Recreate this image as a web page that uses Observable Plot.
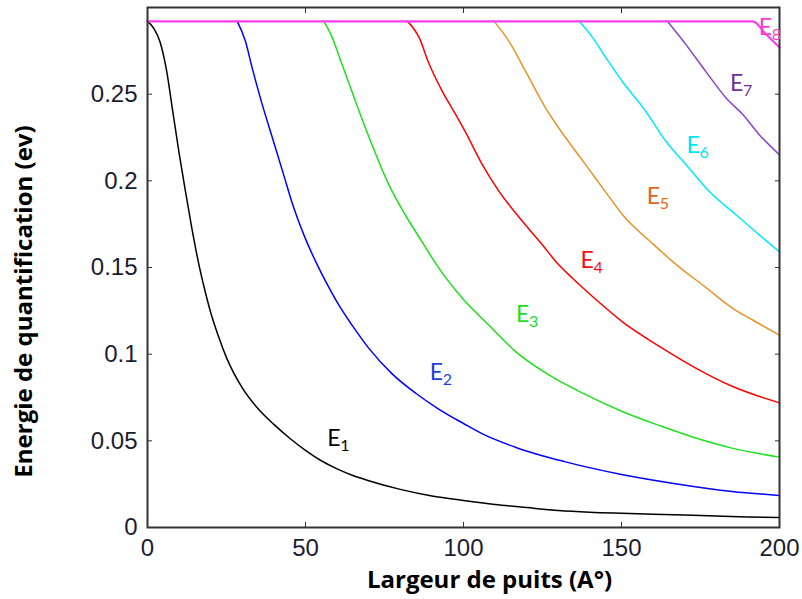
<!DOCTYPE html>
<html>
<head>
<meta charset="utf-8">
<script src="https://cdn.jsdelivr.net/npm/d3@7"></script>
<script src="https://cdn.jsdelivr.net/npm/@observablehq/plot@0.6"></script>
<style>
  html, body { margin: 0; padding: 0; background: #fff; }
</style>
</head>
<body>
<div id="chart"></div>
<script>
// Quantized energy levels of a finite quantum well versus well width.
// Each level is a list of [width (Å), energy (eV)] pairs; a level sits at the
// barrier height until the well is wide enough to bind it.
const e1 = [[0, 0.292], [2, 0.288], [4, 0.280], [6, 0.264], [8, 0.240], [10, 0.216], [12, 0.194], [14, 0.173],
  [16, 0.154], [18, 0.138], [20, 0.124], [22.5, 0.110], [25, 0.098], [30, 0.0805], [35, 0.0685], [40, 0.0595],
  [45, 0.0515], [50, 0.0445], [55, 0.0385], [60, 0.0338], [65, 0.030], [70, 0.027], [80, 0.022], [90, 0.0182],
  [100, 0.0156], [110, 0.0133], [120, 0.0115], [130, 0.0098], [140, 0.0088], [150, 0.0082], [160, 0.0077],
  [170, 0.0072], [180, 0.0066], [190, 0.0061], [200, 0.0058]];
const e2 = [[28.4, 0.292], [31, 0.2805], [33, 0.266], [36, 0.246], [40, 0.222], [43, 0.204], [46, 0.186],
  [50, 0.1665], [54, 0.1505], [57.4, 0.1385], [60, 0.130], [65, 0.116], [70, 0.1035], [77.5, 0.0885],
  [85, 0.0773], [92, 0.0685], [100, 0.060], [106, 0.054], [116.6, 0.0462], [132, 0.038], [150, 0.0306],
  [167, 0.0253], [185, 0.0208], [200, 0.0185]];
const e3 = [[55.8, 0.292], [58.5, 0.2825], [61, 0.270], [64, 0.255], [67, 0.240], [71, 0.221], [76.4, 0.1977],
  [81.7, 0.180], [87, 0.1645], [91.5, 0.1515], [100, 0.1315], [108, 0.1168], [116.6, 0.1013], [127, 0.088],
  [137.7, 0.0775], [150.4, 0.0668], [162, 0.0588], [172.5, 0.0522], [185, 0.0458], [200, 0.0406]];
const e4 = [[82.3, 0.292], [86, 0.2825], [89, 0.268], [93.3, 0.2516], [97.6, 0.238], [100.5, 0.2285],
  [106, 0.2092], [111.3, 0.1938], [118.7, 0.1765], [125, 0.163], [129.2, 0.1535], [134.5, 0.1438],
  [141, 0.133], [150.4, 0.1185], [162, 0.1045], [172.5, 0.093], [185, 0.0815], [200, 0.0719]];
const e5 = [[109.7, 0.292], [114.4, 0.2805], [119.7, 0.263], [126, 0.242], [132.4, 0.2247], [138.7, 0.2092],
  [145, 0.1935], [150.4, 0.1803], [160, 0.1635], [167.5, 0.1514], [175.7, 0.1399], [185.2, 0.1264],
  [191.5, 0.1197], [200, 0.111]];
const e6 = [[136.6, 0.292], [140.9, 0.2825], [145.1, 0.2709], [150.4, 0.257], [157.7, 0.240], [164.1, 0.2227],
  [170.5, 0.2092], [177.8, 0.1938], [186.3, 0.1803], [193.6, 0.1688], [200, 0.159]];
const e7 = [[164.6, 0.292], [170.4, 0.2786], [176.7, 0.263], [183.1, 0.2478], [188.4, 0.2382],
  [193.6, 0.2266], [200, 0.215]];
const e8 = [[0, 0.292], [191.5, 0.292], [195.8, 0.2844], [200, 0.277]];

const levels = [e1, e2, e3, e4, e5, e6, e7, e8];
const lineColors = ["#000000", "#0000ff", "#1fe01f", "#ff0000", "#e8922a", "#00eaff", "#8844cc", "#ff3cf0"];
const lineWidths = [1.5, 1.5, 1.5, 1.5, 1.5, 1.5, 1.5, 2.2];

// Level names, written as E with a subscript index, placed beside each curve
const labelIndex = ["1", "2", "3", "4", "5", "6", "7", "8"];
const labelWidth = [56.9, 89.3, 116.6, 137, 158, 170.6, 184.3, 193.4];
const labelEnergy = [0.0468, 0.085, 0.1183, 0.1495, 0.1865, 0.216, 0.252, 0.284];
const labelColors = ["#000000", "#1f3fd6", "#22dd22", "#f21010", "#e0661a", "#00e5f0", "#7030a0", "#ff3dc8"];

const xTicks = [0, 50, 100, 150, 200];
const yTicks = [0, 0.05, 0.1, 0.15, 0.2, 0.25];
const yTickLabels = ["0", "0.05", "0.1", "0.15", "0.2", "0.25"];

const xTitle = "Largeur de puits (A°)";
const yTitle = "Energie de quantification (ev)";

const axisColor = "#333";
const tickText = "#1c1c30";
const titleFont = "'Open Sans', Lato, sans-serif";
const labelFont = "Lato, 'Open Sans', sans-serif";

const chart = Plot.plot({
  width: 802,
  height: 599,
  marginLeft: 147,
  marginRight: 23,
  marginTop: 7,
  marginBottom: 72,
  style: { fontFamily: "'Liberation Sans', Arial, sans-serif", fontSize: "24px", background: "#fff", color: tickText },
  x: { domain: [0, 200] },
  y: { domain: [0, 0.3] },
  marks: [
    ...levels.map((pts, i) => Plot.line(pts, {
      x: d => d[0], y: d => d[1], stroke: lineColors[i], strokeWidth: lineWidths[i], curve: "monotone-x"
    })),
    Plot.frame({ stroke: axisColor, strokeWidth: 2 }),
    Plot.axisX(xTicks, { anchor: "bottom", tickSize: -5, tickPadding: 16, stroke: axisColor, fill: tickText, label: null, tickFormat: d => String(d) }),
    Plot.axisX(xTicks, { anchor: "top", tickSize: -5, stroke: axisColor, label: null, tickFormat: () => "" }),
    Plot.axisY(yTicks, { anchor: "left", tickSize: -5, tickPadding: 15, stroke: axisColor, fill: tickText, label: null, tickFormat: (d, i) => yTickLabels[i] }),
    Plot.axisY(yTicks, { anchor: "right", tickSize: -5, stroke: axisColor, label: null, tickFormat: () => "" }),
    Plot.text(labelIndex, {
      x: (d, i) => labelWidth[i], y: (d, i) => labelEnergy[i], text: () => "E",
      fill: (d, i) => labelColors[i], textAnchor: "start", lineAnchor: "bottom",
      fontFamily: labelFont, fontSize: 23
    }),
    Plot.text(labelIndex, {
      x: (d, i) => labelWidth[i], y: (d, i) => labelEnergy[i], text: d => d,
      fill: (d, i) => labelColors[i], textAnchor: "start", lineAnchor: "bottom",
      dx: 13, dy: 5, fontFamily: labelFont, fontSize: 16
    }),
    Plot.text([xTitle], {
      frameAnchor: "bottom", dx: 26, dy: 43, textAnchor: "middle", lineAnchor: "top", text: d => d,
      fontFamily: titleFont, fontWeight: "bold", fontSize: 24, fill: "#000"
    }),
    Plot.text([yTitle], {
      frameAnchor: "left", dx: -123, dy: 34, rotate: -90, textAnchor: "middle", lineAnchor: "middle", text: d => d,
      fontFamily: titleFont, fontWeight: "bold", fontSize: 24, fill: "#000"
    })
  ]
});

document.getElementById("chart").appendChild(chart);
</script>
</body>
</html>
